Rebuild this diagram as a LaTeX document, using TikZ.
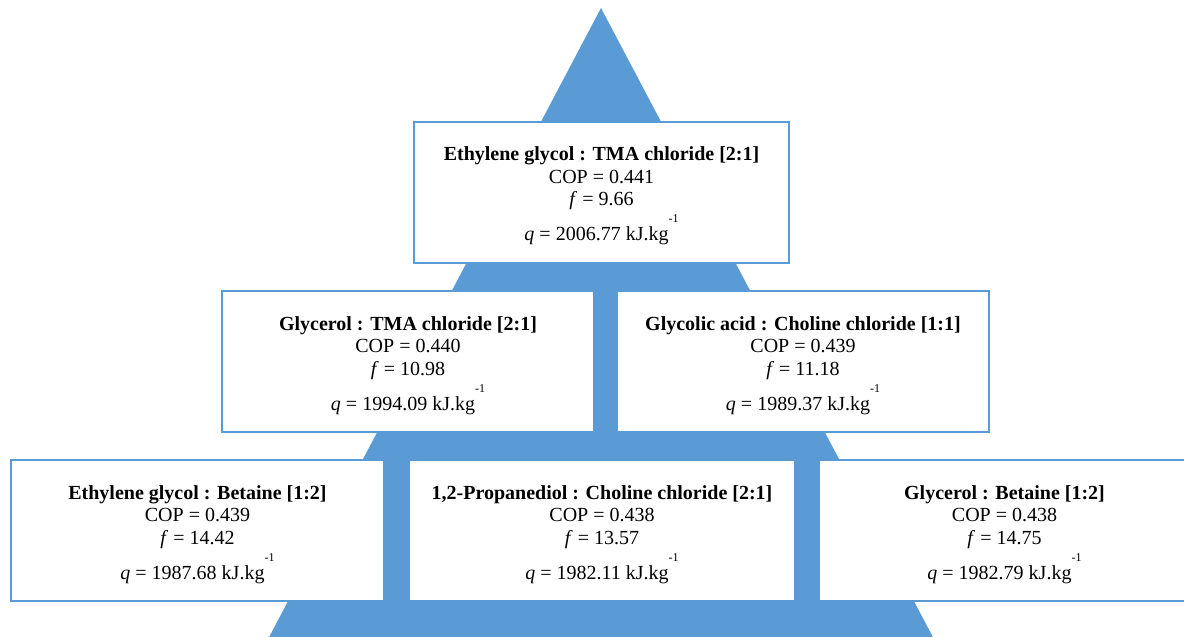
\documentclass[tikz,border=0pt]{standalone}
\usepackage{fontspec}
\setmainfont{Liberation Serif}
\definecolor{pyrblue}{HTML}{5B9BD5}
\newcommand{\boxlines}[4]{\begin{tabular}[t]{@{}c@{}}\textbf{#1}\\ COP = #2\\ \textit{f} = #3\\[12.5pt] \textit{q} = #4 kJ.kg\smash{\raisebox{18pt}{\fontsize{12}{12}\selectfont -1}}\end{tabular}}
\begin{document}
\begin{tikzpicture}[x=1pt,y=-1pt,
  boxst/.style={draw=pyrblue, line width=2pt, fill=white, inner sep=0pt, minimum height=141pt},
  txtst/.style={anchor=base, inner sep=0pt, font=\fontsize{20}{22.5}\selectfont},
]
\useasboundingbox (0,0) rectangle (1184,637);
\clip (0,0) rectangle (1184,637);
\fill[pyrblue] (601,8) -- (257,660) -- (945,660) -- cycle;
% boxes
\node[boxst, minimum width=375pt] (b1) at (601.5,192) {};
\node[boxst, minimum width=372pt] (b21) at (408,361.5) {};
\node[boxst, minimum width=372pt] (b22) at (803,361.5) {};
\node[boxst, minimum width=373pt] (b31) at (197.5,530.5) {};
\node[boxst, minimum width=386pt] (b32) at (602,530.5) {};
\node[boxst, minimum width=371pt] (b33) at (1004.5,530.5) {};
% texts
\node[txtst] (t1) at ([yshift=-40pt]b1.north) {\boxlines{Ethylene glycol : TMA chloride [2:1]}{0.441}{9.66}{2006.77}};
\node[txtst] (t21) at ([yshift=-40pt]b21.north) {\boxlines{Glycerol : TMA chloride [2:1]}{0.440}{10.98}{1994.09}};
\node[txtst] (t22) at ([yshift=-40pt]b22.north) {\boxlines{Glycolic acid : Choline chloride [1:1]}{0.439}{11.18}{1989.37}};
\node[txtst] (t31) at ([yshift=-40pt]b31.north) {\boxlines{Ethylene glycol : Betaine [1:2]}{0.439}{14.42}{1987.68}};
\node[txtst] (t32) at ([yshift=-40pt]b32.north) {\boxlines{1,2-Propanediol : Choline chloride [2:1]}{0.438}{13.57}{1982.11}};
\node[txtst] (t33) at ([yshift=-40pt]b33.north) {\boxlines{Glycerol : Betaine [1:2]}{0.438}{14.75}{1982.79}};
\end{tikzpicture}
\end{document}
